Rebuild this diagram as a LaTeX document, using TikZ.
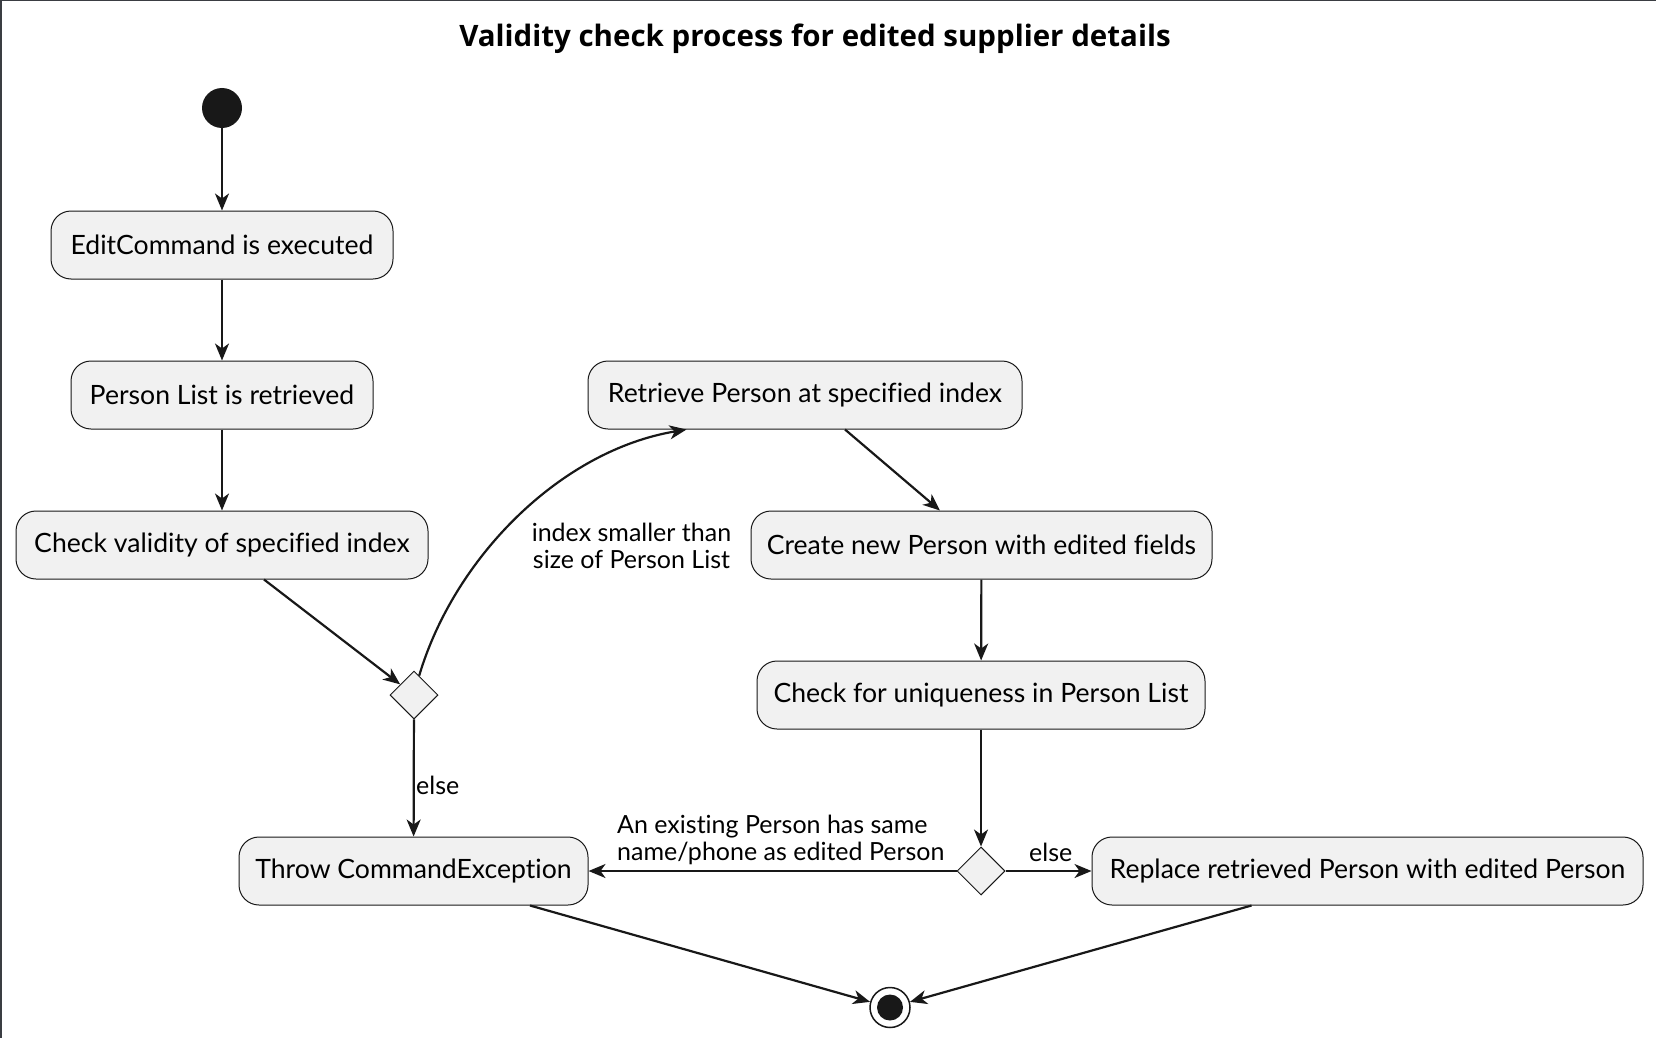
\documentclass[tikz,border=0pt]{standalone}
\usepackage{fontspec}
\setmainfont{Lato}[Ligatures=NoCommon]
\newfontfamily\titlefont{Open Sans}
\usetikzlibrary{shapes.geometric,arrows.meta}
\definecolor{boxfill}{HTML}{F1F1F1}
\definecolor{ink}{HTML}{181818}
\definecolor{framec}{HTML}{3A3D42}
\begin{document}
\begin{tikzpicture}[x=1pt,y=-1pt,
  act/.style={draw=ink, line width=1pt, fill=boxfill, rounded corners=20pt, minimum height=68pt, inner sep=0pt, font=\fontsize{26.6}{32}\selectfont, text=black},
  dec/.style={draw=ink, line width=1pt, fill=boxfill, diamond, minimum width=48pt, minimum height=48pt, inner sep=0pt, shape aspect=1},
  arr/.style={draw=ink, line width=2.2pt, -{Stealth[length=17pt,width=14pt,inset=5pt]}},
  lbl/.style={font=\fontsize{25}{27}\selectfont, text=black, align=center, inner sep=0pt},
]
\useasboundingbox (0,0) rectangle (1656,1038);
\draw[framec, line width=3pt] (0,1038) -- (0,0) -- (1656,0);

\node[font=\titlefont\bfseries\fontsize{29.5}{34}\selectfont] (title) at (815,39) {Validity check process for edited supplier details};

\node[circle, fill=ink, minimum size=40pt, inner sep=0pt] (start) at (222,108) {};
\node[act, minimum width=342pt] (edit) at (222,245) {EditCommand is executed};
\node[act, minimum width=302pt] (plist) at (222,395) {Person List is retrieved};
\node[act, minimum width=412pt] (valid) at (222,545) {Check validity of specified index};
\node[dec] (d1) at (414,695) {};
\node[act, minimum width=349pt] (throw) at (413.5,871) {Throw CommandException};
\node[act, minimum width=434pt] (ret) at (805,395) {Retrieve Person at specified index};
\node[act, minimum width=461pt] (create) at (981.5,545) {Create new Person with edited fields};
\node[act, minimum width=448pt] (uniq) at (981,695) {Check for uniqueness in Person List};
\node[dec] (d2) at (981,871) {};
\node[act, minimum width=551pt] (repl) at (1367.5,871) {Replace retrieved Person with edited Person};
\node[circle, draw=ink, line width=1.5pt, fill=white, minimum size=40pt, inner sep=0pt] (stop) at (890,1007.5) {};
\node[circle, fill=ink, minimum size=26pt, inner sep=0pt] (stopdot) at (stop.center) {};

\draw[arr] (start) -- (edit);
\draw[arr] (edit) -- (plist);
\draw[arr] (plist) -- (valid);
\draw[arr] ([xshift=42pt]valid.south) -- (d1);
\draw[arr] (d1) -- (throw);
\draw[arr] (d1.75) .. controls +(35,-118) and +(-126,21) .. ([xshift=-118.5pt]ret.south);
\draw[arr] ([xshift=40pt]ret.south) -- ([xshift=-41.5pt]create.north);
\draw[arr] (create) -- (uniq);
\draw[arr] (uniq) -- (d2);
\draw[arr] (d2) -- (throw);
\draw[arr] (d2) -- (repl);
\draw[arr] ([xshift=116.5pt]throw.south) -- (stop);
\draw[arr] ([xshift=-116pt]repl.south) -- (stop);

\node[lbl] (l1) at (631.5,546) {index smaller than\\size of Person List};
\node[lbl, anchor=west] (l2) at (416,785) {else};
\node[lbl, align=left, anchor=west] (l3) at (617,840) {An existing Person has same\\name/phone as edited Person};
\node[lbl, anchor=west] (l4) at (1029,852) {else};
\end{tikzpicture}
\end{document}
